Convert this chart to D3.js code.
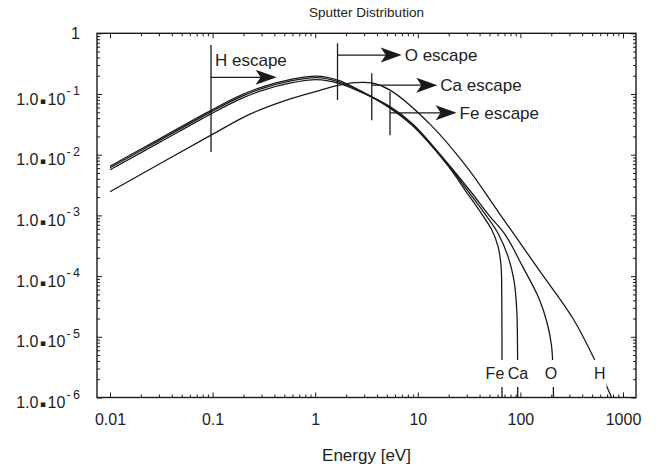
<!DOCTYPE html>
<html><head><meta charset="utf-8">
<script src="https://cdn.jsdelivr.net/npm/d3@7"></script>
<style>
body{margin:0;background:#fff}
svg{display:block}
text{font-family:"Liberation Sans",Arial,Helvetica,sans-serif;fill:#222}
</style></head>
<body><svg id="c" width="659" height="467"></svg>
<script>
// ---- data ----
const title = "Sputter Distribution";
const xLabel = "Energy [eV]";
const xTickValues = [0.01, 0.1, 1, 10, 100, 1000];
const xTickLabels = ["0.01", "0.1", "1", "10", "100", "1000"];
const yTickValues = [1, 1e-1, 1e-2, 1e-3, 1e-4, 1e-5, 1e-6];
const yTickExponents = [0, -1, -2, -3, -4, -5, -6];

const speciesNames = ["Fe", "Ca", "O", "H"];
const energyFe = [0.01, 0.0307, 0.0965, 0.185, 0.324, 0.568, 1.034, 1.668, 2.733, 5.358, 8.98, 19.13, 30.86, 42.24, 52.85, 60.5, 64.7, 65.87, 66.2];
const valueFe  = [6.46e-3, 0.01844, 0.0538, 0.0941, 0.135, 0.173, 0.1975, 0.1696, 0.1138, 0.0585, 0.02954, 6.97e-3, 2.229e-3, 1.042e-3, 5.68e-4, 3.09e-4, 1.50e-4, 3.97e-5, 9.6e-7];
const energyCa = [0.01, 0.0307, 0.0965, 0.185, 0.324, 0.568, 1.034, 1.668, 2.733, 5.358, 8.98, 19.13, 32.28, 46.2, 60.5, 75.7, 86.6, 92.2, 93.7, 94.1];
const valueCa  = [6.10e-3, 0.01741, 0.0508, 0.0889, 0.1275, 0.1633, 0.1865, 0.1602, 0.1129, 0.0603, 0.0306, 7.24e-3, 2.272e-3, 1.004e-3, 5.07e-4, 2.114e-4, 8.49e-5, 2.72e-5, 7.19e-6, 9.6e-7];
const energyO  = [0.01, 0.0307, 0.0965, 0.185, 0.324, 0.568, 1.034, 1.668, 2.733, 5.358, 8.98, 19.13, 33.76, 49.4, 70.78, 103.7, 151.8, 181.7, 201, 207.9, 210.2];
const valueO   = [5.65e-3, 0.01614, 0.0471, 0.0824, 0.1182, 0.1514, 0.1729, 0.1513, 0.1095, 0.0620, 0.0319, 7.52e-3, 2.316e-3, 1.004e-3, 4.88e-4, 1.50e-4, 4.29e-5, 1.72e-5, 7.19e-6, 2.78e-6, 9.6e-7];
const energyH  = [0.01, 0.0965, 0.2314, 0.508, 1.114, 1.668, 2.443, 3.554, 5.358, 13.15, 29.97, 63.26, 155.3, 325.6, 533.5, 781];
const valueH   = [2.45e-3, 0.0210, 0.0466, 0.0778, 0.1151, 0.1386, 0.1536, 0.1519, 0.1160, 0.0319, 6.29e-3, 1.042e-3, 1.196e-4, 2.00e-5, 4.06e-6, 9.6e-7];
const speciesLabelEnergy = [56.5, 94.8, 199, 593];

// escape annotations
const escapeNames  = ["H escape", "O escape", "Ca escape", "Fe escape"];
const escapeEnergy = [0.0965, 1.65, 3.56, 5.36];
const escapeTop    = [0.641, 0.684, 0.219, 0.1087];
const escapeBottom = [0.0111, 0.0794, 0.0371, 0.021];
const arrowLevel   = [0.188, 0.438, 0.140, 0.049];
const arrowTipEnergy = [0.421, 6.97, 15.5, 23.9];

// ---- layout ----
const svg = d3.select("#c");
const x = d3.scaleLog().domain([0.01, 1000]).range([110, 623]);
const y = d3.scaleLog().domain([1e-6, 1]).range([397.5, 33.3]);
const L = x(0.01) - 13, R = x(1000) + 13, T = y(1), B = y(1e-6);
const ink = "#1a1a1a";

svg.append("defs").append("clipPath").attr("id", "clip")
  .append("rect").attr("x", L).attr("y", T).attr("width", R - L).attr("height", B - T);

// ticks (inward on all four sides)
const isMajor = v => Math.abs(Math.log10(v) - Math.round(Math.log10(v))) < 1e-9;
const xAll = x.ticks(), yAll = y.ticks();
const xMaj = xAll.filter(isMajor), xMin = xAll.filter(v => !isMajor(v));
const yMaj = yAll.filter(isMajor), yMin = yAll.filter(v => !isMajor(v));
function tickGroup(axis, tx, ty) {
  const g = svg.append("g").attr("transform", `translate(${tx},${ty})`).call(axis);
  g.select(".domain").remove();
  g.selectAll("text").remove();
  g.selectAll("line").attr("stroke", ink).attr("stroke-width", 1);
}
[[xMaj, 5], [xMin, 3]].forEach(([vals, len]) => {
  tickGroup(d3.axisBottom(x).tickValues(vals).tickSize(-len), 0, B);
  tickGroup(d3.axisTop(x).tickValues(vals).tickSize(-len), 0, T);
});
[[yMaj, 5], [yMin, 3]].forEach(([vals, len]) => {
  tickGroup(d3.axisLeft(y).tickValues(vals).tickSize(-len), L, 0);
  tickGroup(d3.axisRight(y).tickValues(vals).tickSize(-len), R, 0);
});

// frame
svg.append("rect").attr("x", L).attr("y", T).attr("width", R - L).attr("height", B - T)
  .attr("fill", "none").attr("stroke", ink).attr("stroke-width", 1.4);

// x tick labels
const xl = svg.append("g").attr("transform", `translate(0,${B})`)
  .call(d3.axisBottom(x).tickValues(xTickValues).tickSize(0).tickPadding(16)
        .tickFormat((d, i) => xTickLabels[i]));
xl.select(".domain").remove();
xl.selectAll("text").attr("font-size", 16).attr("fill", "#222")
  .attr("font-family", '"Liberation Sans",Arial,sans-serif');

// y tick labels
yTickValues.forEach((v, i) => {
  const e = yTickExponents[i];
  const t = svg.append("text").attr("x", 80).attr("text-anchor", "end").attr("font-size", 16);
  if (e === 0) {
    t.attr("y", y(v) + 6).text("1");
  } else {
    t.attr("y", y(v) + 10.5);
    t.append("tspan").text("1.0");
    t.append("tspan").attr("dx", 1.5).attr("dy", -1).attr("font-size", 9)
      .attr("font-family", "DejaVu Sans").text("\u25AA");
    t.append("tspan").attr("dx", 1.5).attr("dy", 1).text("10");
    t.append("tspan").attr("dx", 1).attr("dy", -9.5).attr("font-size", 12.5).text("-\u2009" + Math.abs(e));
  }
});

// title & axis label
svg.append("text").attr("x", (L + R) / 2).attr("y", 17).attr("text-anchor", "middle")
  .attr("font-size", 13.5).text(title);
svg.append("text").attr("x", (L + R) / 2).attr("y", 461).attr("text-anchor", "middle")
  .attr("font-size", 17).text(xLabel);

// curves
const series = [
  [energyFe, valueFe], [energyCa, valueCa], [energyO, valueO], [energyH, valueH]
];
const line = d3.line().x(d => x(d[0])).y(d => y(d[1])).curve(d3.curveCatmullRom.alpha(0.5));
const cg = svg.append("g").attr("clip-path", "url(#clip)");
series.forEach(([es, vs]) => {
  cg.append("path").datum(es.map((e, i) => [e, vs[i]]))
    .attr("d", line).attr("fill", "none").attr("stroke", ink).attr("stroke-width", 1.3);
});

// species labels with white background
speciesNames.forEach((n, i) => {
  const cx = x(speciesLabelEnergy[i]);
  const t = svg.append("text").attr("x", cx).attr("y", 379).attr("text-anchor", "middle")
    .attr("font-size", 16).text(n);
  const bb = t.node().getBBox();
  svg.insert("rect", () => t.node()).attr("x", bb.x - 1).attr("y", 360)
    .attr("width", bb.width + 2).attr("height", 27).attr("fill", "#fff");
});

// escape annotations
escapeNames.forEach((n, i) => {
  const ex = x(escapeEnergy[i]);
  svg.append("line").attr("x1", ex).attr("x2", ex)
    .attr("y1", y(escapeTop[i])).attr("y2", y(escapeBottom[i]))
    .attr("stroke", ink).attr("stroke-width", 1.3);
  const ay = y(arrowLevel[i]);
  const tip = x(arrowTipEnergy[i]);
  svg.append("line").attr("x1", ex).attr("x2", tip - 10).attr("y1", ay).attr("y2", ay)
    .attr("stroke", ink).attr("stroke-width", 1.3);
  svg.append("path")
    .attr("d", `M${tip},${ay} L${tip - 21},${ay - 7.5} L${tip - 16},${ay} L${tip - 21},${ay + 7.5} Z`)
    .attr("fill", ink);
  if (i === 0) {
    svg.append("text").attr("x", ex + 4).attr("y", 66).attr("font-size", 17).text(n);
  } else {
    svg.append("text").attr("x", tip + 3).attr("y", ay + 6.3).attr("font-size", 17).text(n);
  }
});
</script></body></html>
